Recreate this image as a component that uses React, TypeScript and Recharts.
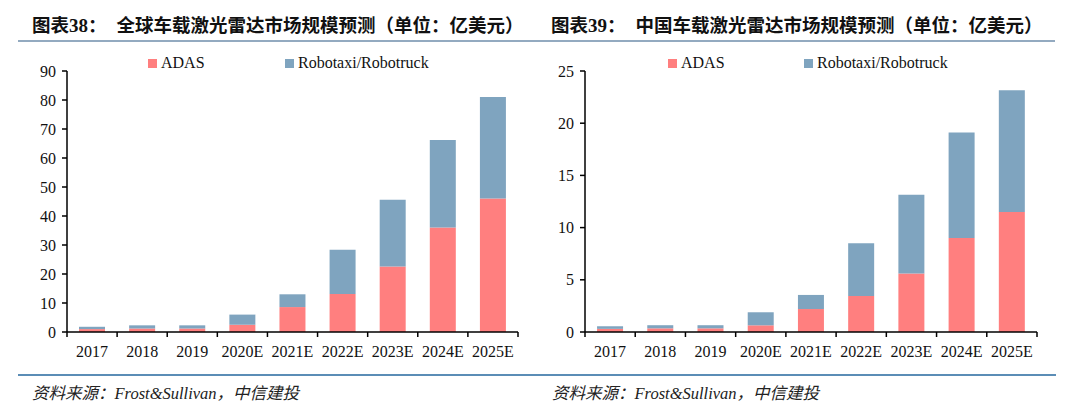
import React from 'react';
import { BarChart, Bar, XAxis, YAxis, Legend } from 'recharts';

const categories = ['2017', '2018', '2019', '2020E', '2021E', '2022E', '2023E', '2024E', '2025E'];
const globalAdas = [1.0, 1.2, 1.2, 2.5, 8.6, 13.1, 22.6, 36.0, 46.0];
const globalRobo = [0.8, 1.1, 1.1, 3.5, 4.4, 15.3, 23.0, 30.2, 35.0];
const chinaAdas = [0.3, 0.35, 0.35, 0.64, 2.2, 3.45, 5.6, 9.0, 11.5];
const chinaRobo = [0.25, 0.3, 0.3, 1.25, 1.35, 5.05, 7.55, 10.1, 11.65];
const globalTicks = [0, 10, 20, 30, 40, 50, 60, 70, 80, 90];
const chinaTicks = [0, 5, 10, 15, 20, 25];

const ADAS_COLOR = '#FF7F7F';
const ROBO_COLOR = '#7FA4BF';
const SERIF = '"Liberation Serif", "Times New Roman", serif';
const CJK = '"Noto Sans CJK SC", sans-serif';

const CHART_W = 540;
const CHART_H = 320;

interface PanelProps {
  left: number;
  adas: number[];
  robo: number[];
  ticks: number[];
  yWidth: number;
  marginRight: number;
  legendX: [number, number];
}

const Panel: React.FC<PanelProps> = ({ left, adas, robo, ticks, yWidth, marginRight, legendX }) => {
  const data = categories.map((c, i) => ({ name: c, adas: adas[i], robo: robo[i] }));
  const band = (CHART_W - yWidth - marginRight) / categories.length;

  // x tick: label plus boundary marks between categories
  const XTick = (props: any) => {
    const { x, y, payload, index } = props;
    return (
      <g>
        <line x1={x - band / 2} x2={x - band / 2} y1={y} y2={y + 5} stroke="#000" strokeWidth={1.5} />
        {index === categories.length - 1 && (
          <line x1={x + band / 2} x2={x + band / 2} y1={y} y2={y + 5} stroke="#000" strokeWidth={1.5} />
        )}
        <text x={x} y={y + 25} textAnchor="middle" fontFamily={SERIF} fontSize={16} fill="#111">
          {payload.value}
        </text>
      </g>
    );
  };

  const legendContent = () => (
    <div style={{ position: 'relative', height: 20, fontFamily: SERIF, fontSize: 16, color: '#111' }}>
      {[
        { x: legendX[0], color: ADAS_COLOR, label: 'ADAS' },
        { x: legendX[1], color: ROBO_COLOR, label: 'Robotaxi/Robotruck' },
      ].map((it) => (
        <div key={it.label} style={{ position: 'absolute', left: it.x, top: 0, display: 'flex', alignItems: 'center', whiteSpace: 'nowrap' }}>
          <span style={{ width: 9, height: 9, background: it.color, display: 'inline-block', marginRight: 4 }} />
          <span>{it.label}</span>
        </div>
      ))}
    </div>
  );

  return (
    <div style={{ position: 'absolute', left, top: 50 }}>
      <BarChart
        width={CHART_W}
        height={CHART_H}
        data={data}
        margin={{ top: 21, right: marginRight, left: 0, bottom: 0 }}
        barCategoryGap="24%"
      >
        <XAxis
          dataKey="name"
          height={38}
          tickSize={0}
          tickMargin={0}
          tick={<XTick />}
          axisLine={{ stroke: '#000', strokeWidth: 1.5 }}
          interval={0}
        />
        <YAxis
          width={yWidth}
          domain={[0, ticks[ticks.length - 1]]}
          ticks={ticks}
          tickSize={5}
          tickMargin={6}
          tick={{ fontFamily: SERIF, fontSize: 16, fill: '#111' }}
          tickLine={{ stroke: '#000', strokeWidth: 1.5 }}
          axisLine={{ stroke: '#000', strokeWidth: 1.5 }}
          interval={0}
        />
        <Legend
          verticalAlign="middle"
          layout="horizontal"
          wrapperStyle={{ top: 4, left: 0, width: CHART_W }}
          content={legendContent}
        />
        <Bar dataKey="adas" stackId="a" fill={ADAS_COLOR} isAnimationActive={false} />
        <Bar dataKey="robo" stackId="a" fill={ROBO_COLOR} isAnimationActive={false} />
      </BarChart>
    </div>
  );
};

const Title: React.FC<{ left: number; num: string; text: string }> = ({ left, num, text }) => (
  <div style={{ position: 'absolute', left, top: 11, fontFamily: CJK, fontWeight: 700, fontSize: 18.5, color: '#111', whiteSpace: 'nowrap', lineHeight: '26px' }}>
    <span>图表</span>
    <span style={{ fontFamily: SERIF, fontWeight: 700, fontSize: 19 }}>{num}</span>
    <span>：</span>
    <span style={{ marginLeft: 10 }}>{text}</span>
  </div>
);

const Source: React.FC<{ left: number }> = ({ left }) => (
  <div style={{ position: 'absolute', left, top: 380, fontFamily: CJK, fontStyle: 'italic', fontSize: 16.5, color: '#222', whiteSpace: 'nowrap', lineHeight: '24px' }}>
    资料来源：<span style={{ fontFamily: SERIF }}>Frost&amp;Sullivan</span>，中信建投
  </div>
);

export default function App() {
  return (
    <div style={{ position: 'absolute', left: 0, top: 0, width: 1080, height: 411, background: '#fff', overflow: 'hidden' }}>
      <Title left={32} num="38" text="全球车载激光雷达市场规模预测（单位：亿美元）" />
      <Title left={551} num="39" text="中国车载激光雷达市场规模预测（单位：亿美元）" />
      <div style={{ position: 'absolute', left: 18, top: 40, width: 1037, height: 2, background: '#93AAC0' }} />
      <Panel left={0} adas={globalAdas} robo={globalRobo} ticks={globalTicks} yWidth={67} marginRight={22} legendX={[148, 285]} />
      <Panel left={540} adas={chinaAdas} robo={chinaRobo} ticks={chinaTicks} yWidth={45} marginRight={43} legendX={[128, 264]} />
      <div style={{ position: 'absolute', left: 18, top: 374, width: 1038, height: 2, background: '#5B8DB6' }} />
      <Source left={32} />
      <Source left={552} />
    </div>
  );
}
